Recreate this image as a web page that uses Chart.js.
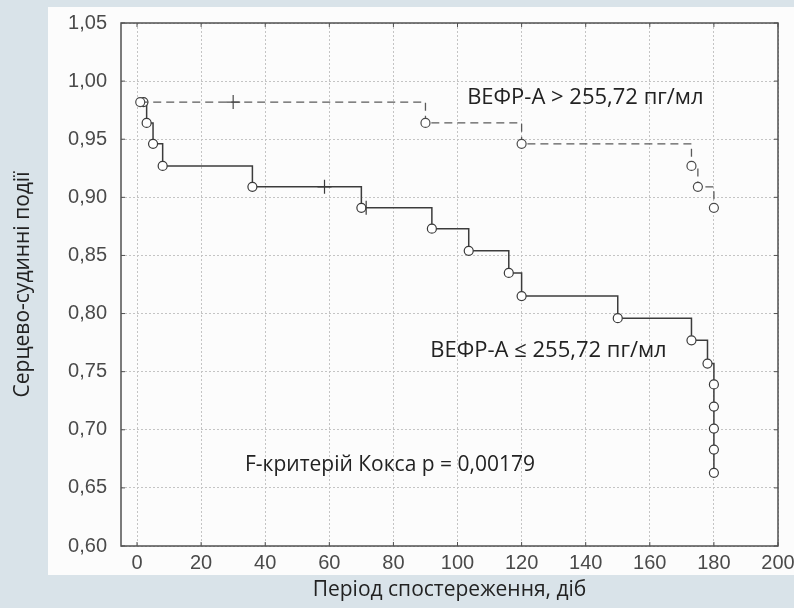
<!DOCTYPE html>
<html>
<head>
<meta charset="utf-8">
<script src="https://cdn.jsdelivr.net/npm/chart.js@4.4.1/dist/chart.umd.min.js"></script>
<style>
  html, body { margin: 0; padding: 0; background: #d9e3e9; }
  #wrap { width: 794px; height: 608px; position: relative; }
</style>
</head>
<body>
<div id="wrap"><canvas id="kmChart" width="794" height="608"></canvas></div>
<script>
// ВЕФР-А > 255,72 пг/мл  (dashed curve)
const highDays  = [1, 30, 90, 120, 173, 175, 180];
const highSurv  = [0.982, 0.982, 0.964, 0.946, 0.927, 0.909, 0.891];
const highMarks = ['o', '+', 'o', 'o', 'o', 'o', 'o'];

// ВЕФР-А <= 255,72 пг/мл  (solid curve)
const lowDays  = [2, 3, 5, 8, 36, 58.5, 70, 71.5, 92, 103.5, 116, 120, 150, 173, 178, 180, 180, 180, 180, 180];
const lowSurv  = [0.982, 0.964, 0.946, 0.927, 0.909, 0.909, 0.891, 0.891, 0.873, 0.854, 0.835, 0.815, 0.796, 0.777, 0.757, 0.739, 0.720, 0.701, 0.683, 0.663];
const lowMarks = ['o', 'o', 'o', 'o', 'o', '+', 'o', '|', 'o', 'o', 'o', 'o', 'o', 'o', 'o', 'o', 'o', 'o', 'o', 'o'];

const xTicks = [0, 20, 40, 60, 80, 100, 120, 140, 160, 180, 200];
const yTicks = [0.60, 0.65, 0.70, 0.75, 0.80, 0.85, 0.90, 0.95, 1.00, 1.05];

const labelHigh = 'ВЕФР-А > 255,72 пг/мл';
const labelLow = 'ВЕФР-А ≤ 255,72 пг/мл';
const labelCox = 'F-критерій Кокса p = 0,00179';

function toPoints(xs, ys) {
    return xs.map((x, i) => ({ x: x, y: ys[i] }));
}
function markStyle(m) {
    if (m === '+') return 'cross';
    if (m === '|') return 'line';
    return 'circle';
}
function markRadius(m) {
    return m === 'o' ? 4.5 : 7;
}

const panelPlugin = {
    id: 'panel',
    beforeDraw(chart) {
        const ctx = chart.ctx;
        ctx.save();
        ctx.fillStyle = '#d9e3e9';
        ctx.fillRect(0, 0, chart.width, chart.height);
        ctx.fillStyle = '#fcfcfc';
        ctx.fillRect(48, 7, chart.width - 48, 568);
        ctx.restore();
    },
    afterDraw(chart) {
        const ctx = chart.ctx;
        const a = chart.chartArea;
        const xs = chart.scales.x, ys = chart.scales.y;
        ctx.save();
        // frame
        ctx.strokeStyle = '#505050';
        ctx.lineWidth = 1.5;
        ctx.strokeRect(a.left, a.top, a.right - a.left, a.bottom - a.top);
        // inner tick marks
        ctx.lineWidth = 1;
        ctx.beginPath();
        xTicks.forEach(v => {
            const px = xs.getPixelForValue(v);
            ctx.moveTo(px, a.bottom); ctx.lineTo(px, a.bottom - 4);
            ctx.moveTo(px, a.top); ctx.lineTo(px, a.top + 4);
        });
        yTicks.forEach(v => {
            const py = ys.getPixelForValue(v);
            ctx.moveTo(a.left, py); ctx.lineTo(a.left + 4, py);
            ctx.moveTo(a.right, py); ctx.lineTo(a.right - 4, py);
        });
        ctx.stroke();
        // annotations
        ctx.fillStyle = '#222';
        ctx.textBaseline = 'middle';
        ctx.textAlign = 'left';
        ctx.font = '22px "Open Sans"';
        ctx.fillText(labelHigh, xs.getPixelForValue(103), ys.getPixelForValue(0.986));
        ctx.fillText(labelLow, xs.getPixelForValue(91.5), ys.getPixelForValue(0.768));
        ctx.font = '21px "Open Sans"';
        ctx.fillText(labelCox, xs.getPixelForValue(33.7), ys.getPixelForValue(0.670));
        ctx.restore();
    }
};

const ctx = document.getElementById('kmChart').getContext('2d');
const chart = new Chart(ctx, {
    type: 'scatter',
    data: {
        datasets: [{
            label: labelHigh,
            data: toPoints(highDays, highSurv),
            showLine: true,
            stepped: 'before',
            borderColor: '#5a5a5a',
            borderWidth: 1.3,
            borderDash: [8, 5],
            pointStyle: highMarks.map(markStyle),
            pointRadius: highMarks.map(markRadius),
            pointRotation: highMarks.map(m => m === '|' ? 90 : 0),
            pointBackgroundColor: '#ffffff',
            pointBorderColor: '#4a4a4a',
            pointBorderWidth: 1.2
        }, {
            label: labelLow,
            data: toPoints(lowDays, lowSurv),
            showLine: true,
            stepped: 'before',
            borderColor: '#3c3c3c',
            borderWidth: 1.5,
            pointStyle: lowMarks.map(markStyle),
            pointRadius: lowMarks.map(markRadius),
            pointRotation: lowMarks.map(m => m === '|' ? 90 : 0),
            pointBackgroundColor: '#ffffff',
            pointBorderColor: '#3a3a3a',
            pointBorderWidth: 1.2
        }]
    },
    options: {
        responsive: false,
        animation: false,
        layout: { padding: { left: 0, right: 16, top: 23, bottom: 0 } },
        plugins: {
            legend: { display: false },
            tooltip: { enabled: false }
        },
        scales: {
            x: {
                type: 'linear',
                min: -5,
                max: 200,
                afterBuildTicks: s => { s.ticks = xTicks.map(v => ({ value: v })); },
                afterFit: s => { s.height = 62; s.paddingLeft = 0; s.paddingRight = 0; },
                grid: { color: '#c4c4c4', lineWidth: 1, drawTicks: false },
                border: { display: false, dash: [2, 2] },
                ticks: {
                    padding: 5,
                    color: '#4a4a4a',
                    font: { family: 'Liberation Sans', size: 20 },
                    maxRotation: 0,
                    callback: v => String(v)
                },
                title: {
                    display: true,
                    text: 'Період спостереження, діб',
                    color: '#222',
                    font: { family: 'Open Sans', size: 21 },
                    padding: { top: 0, bottom: 5 }
                }
            },
            y: {
                type: 'linear',
                min: 0.60,
                max: 1.05,
                afterBuildTicks: s => { s.ticks = yTicks.map(v => ({ value: v })); },
                afterFit: s => { s.width = 121; s.paddingTop = 0; s.paddingBottom = 0; },
                grid: { color: '#c4c4c4', lineWidth: 1, drawTicks: false },
                border: { display: false, dash: [2, 2] },
                ticks: {
                    padding: 14,
                    color: '#4a4a4a',
                    font: { family: 'Liberation Sans', size: 20 },
                    callback: v => v.toFixed(2).replace('.', ',')
                },
                title: {
                    display: true,
                    text: 'Серцево-судинні події',
                    color: '#222',
                    font: { family: 'Open Sans', size: 21 },
                    padding: { top: 10, bottom: 0 }
                }
            }
        }
    },
    plugins: [panelPlugin]
});
</script>
</body>
</html>
